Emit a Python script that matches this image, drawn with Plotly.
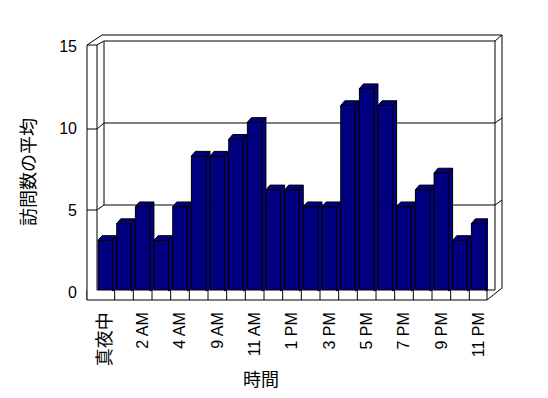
import plotly.graph_objects as go

# ---- data ----
categories = ["真夜中", "1 AM", "2 AM", "3 AM", "4 AM", "8 AM", "9 AM", "10 AM", "11 AM",
              "正午", "1 PM", "2 PM", "3 PM", "4 PM", "5 PM", "6 PM", "7 PM", "8 PM",
              "9 PM", "10 PM", "11 PM"]
values = [3, 4, 5, 3, 5, 8, 8, 9, 10, 6, 6, 5, 5, 11, 12, 11, 5, 6, 7, 3, 4]
y_ticks = [0, 5, 10, 15]
x_title = "時間"
y_title = "訪問数の平均"

# ---- layout constants (page has an 8px body margin) ----
OFF = 8
W, H = 548 - 2 * OFF, 398 - 2 * OFF
PL, PR, PT, PB = 96, 488, 38, 300          # plot area in window pixels
ML, MR, MT, MB = PL - OFF, W - (PR - OFF), PT - OFF, H - (PB - OFF)
PW, PH = PR - PL, PB - PT
NAVY = "#000080"
BAR_W = 0.78
n = len(categories)
xs = list(range(n))
px_per_cat = PW / n
BASE = 291
y_rng = [-(PB - BASE) * 15 / (BASE - PT), 15]
px_per_unit = PH / (y_rng[1] - y_rng[0])
DX = 4 / px_per_cat
DY = 4.7 / px_per_unit
FONT_CJK = "Noto Sans CJK JP"
FONT_LAT = "Liberation Sans, Arial"


def pxx(p):
    return (p - PL) / PW


def pxy(p):
    return (PB - p) / PH


fig = go.Figure()
fig.add_trace(go.Bar(x=xs, y=values, width=BAR_W,
                     marker=dict(color=NAVY, line=dict(color="black", width=1)),
                     hoverinfo="skip", showlegend=False))

shapes = []


def line(x0, y0, x1, y1, layer="below"):
    shapes.append(dict(type="line", xref="paper", yref="paper",
                       x0=pxx(x0), y0=pxy(y0), x1=pxx(x1), y1=pxy(y1),
                       line=dict(color="black", width=1), layer=layer))


# outer silhouette of the 3D box
line(87, 300, 87, 45)
line(87, 45, 102, 35)
line(102, 35, 502, 35)
line(502, 35, 502, 288)
# left wall / back wall edges
line(87, 45, 97, 45)
line(97, 45, 104, 41)
line(97, 45, 97, 290)
line(104, 41, 495, 41)
line(495, 41, 502, 35)
line(495, 41, 495, 290)
line(104, 41, 104, 205)
# gridlines (back wall + wall thickness)
for yb, yf in [(205, 210), (123, 129)]:
    line(87, yf, 97, yf)
    line(97, yf, 104, yb)
    line(104, yb, 495, yb)
    line(495, yb, 502, yb - 5)
# floor
shapes.append(dict(type="rect", xref="paper", yref="paper",
                   x0=pxx(87), x1=pxx(487), y0=pxy(300), y1=pxy(290),
                   fillcolor="white", line=dict(width=0), layer="above"))
line(97, 290, 495, 290, "above")
line(87, 300, 487, 300, "above")
line(87, 290, 87, 300, "above")
line(487, 290, 487, 300, "above")
line(487, 300, 502, 288, "above")
for k in range(1, n):
    shapes.append(dict(type="line", xref="x", yref="paper",
                       x0=k - 0.5, x1=k - 0.5, y0=pxy(300), y1=pxy(290),
                       line=dict(color="black", width=1), layer="above"))

# 3D top and side faces of the bars
hw = BAR_W / 2
for i, v in zip(xs, values):
    xl, xr = i - hw, i + hw
    shapes.append(dict(type="path", xref="x", yref="y",
                       path=f"M {xl},{v} L {xr},{v} L {xr + DX},{v + DY} L {xl + DX},{v + DY} Z",
                       fillcolor=NAVY, line=dict(color="black", width=1), layer="above"))
    shapes.append(dict(type="path", xref="x", yref="y",
                       path=f"M {xr},0 L {xr},{v} L {xr + DX},{v + DY} L {xr + DX},{0.15} Z",
                       fillcolor=NAVY, line=dict(color="black", width=1), layer="above"))

# y label axis in the front plane: 0 at y=292, 15 at y=46 (window pixels)
y2_per = (292 - 46) / 15
y2_rng = [(292 - PB) / y2_per, (292 - PT) / y2_per]

ticktext = [f'<span style="font-size:18px">{c}</span>' if not c[0].isdigit() else c
            for c in categories[::2]]

fig.update_layout(
    width=W, height=H,
    margin=dict(l=ML, r=MR, t=MT, b=MB, pad=0),
    paper_bgcolor="white", plot_bgcolor="white",
    shapes=shapes,
    bargap=0.2,
    xaxis=dict(range=[-0.5, n - 0.5], tickmode="array", tickvals=xs[::2],
               ticktext=ticktext, tickangle=-90, showgrid=False, zeroline=False,
               showline=False, ticks="", ticklabelstandoff=8,
               tickfont=dict(family=FONT_LAT + ", " + FONT_CJK, size=16, color="black")),
    yaxis=dict(range=y_rng, showgrid=False, zeroline=False, showline=False,
               showticklabels=False, ticks=""),
    yaxis2=dict(overlaying="y", side="left", range=y2_rng, tickmode="array",
                tickvals=y_ticks, showgrid=False, zeroline=False, showline=False,
                ticks="", ticklabelstandoff=18,
                tickfont=dict(family=FONT_LAT, size=16, color="black")),
    annotations=[
        dict(text=x_title, xref="paper", yref="paper", x=pxx(261), y=pxy(378),
             xanchor="center", yanchor="middle", showarrow=False,
             font=dict(family=FONT_CJK, size=18, color="black")),
        dict(text=y_title, xref="paper", yref="paper", x=pxx(27), y=pxy(172),
             xanchor="center", yanchor="middle", textangle=-90, showarrow=False,
             font=dict(family=FONT_CJK, size=18, color="black")),
    ],
)
fig.add_trace(go.Scatter(x=[None], y=[None], yaxis="y2", showlegend=False, hoverinfo="skip"))

fig.write_html("out.html")
